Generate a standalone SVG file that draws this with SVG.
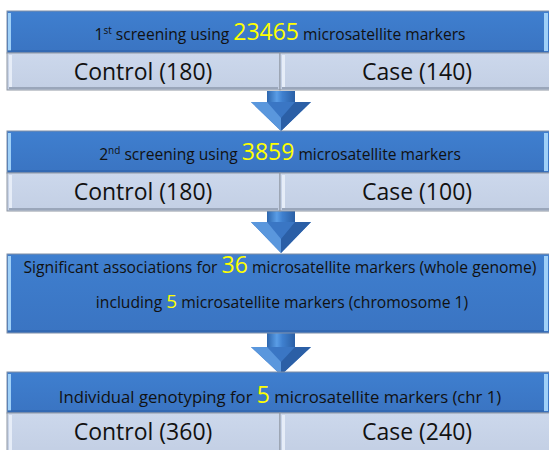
<svg xmlns="http://www.w3.org/2000/svg" width="549" height="450" viewBox="0 0 549 450">
<defs>
<linearGradient id="shaft" x1="0" y1="0" x2="1" y2="0">
<stop offset="0" stop-color="#2c65ad"/>
<stop offset="0.35" stop-color="#5a9de6"/>
<stop offset="0.55" stop-color="#3f80cf"/>
<stop offset="1" stop-color="#2a5fa5"/>
</linearGradient>
<linearGradient id="blueV" x1="0" y1="0" x2="0" y2="1">
<stop offset="0" stop-color="#3f7fcf"/>
<stop offset="1" stop-color="#3a74c2"/>
</linearGradient>
<linearGradient id="grayV" x1="0" y1="0" x2="0" y2="1">
<stop offset="0" stop-color="#ccd8ec"/>
<stop offset="1" stop-color="#c3cfe4"/>
</linearGradient>
</defs>
<style>
.hdr{fill:url(#blueV);stroke:#7f8ea6;stroke-width:1}
.cell{fill:url(#grayV);stroke:#8f97a3;stroke-width:1}
.hl{fill:#9fd0f8}
.hd{fill:#2e62a8;opacity:0.6}
.cl{fill:#e6edf8}
.cd{fill:#9aa6ba}
.t{font-family:"Open Sans","Liberation Sans",sans-serif;fill:#111;text-anchor:middle}
.s{font-size:15.6px}
.m{font-size:15.7px}
.m4{font-size:16.7px}
.big{fill:#ffff00}
.lg{font-size:23px}
</style>

<g id="connectors">
<g id="arrow1">
<rect x="267" y="91" width="28" height="12" fill="url(#shaft)"/>
<polygon points="251,102 311,102 281,131" fill="#3a76c4"/>
<polygon points="251,102 267,102 281,118 281,131" fill="#5a97dd"/>
<polygon points="311,102 295,102 281,118 281,131" fill="#2b5fa6"/>
</g>
<g id="arrow2">
<rect x="267" y="211" width="28" height="12" fill="url(#shaft)"/>
<polygon points="251,222 311,222 281,253" fill="#3a76c4"/>
<polygon points="251,222 267,222 281,239 281,253" fill="#5a97dd"/>
<polygon points="311,222 295,222 281,239 281,253" fill="#2b5fa6"/>
</g>
<g id="arrow3">
<rect x="267" y="333" width="28" height="15" fill="url(#shaft)"/>
<polygon points="251,347 311,347 281,375" fill="#3a76c4"/>
<polygon points="251,347 267,347 281,362 281,375" fill="#5a97dd"/>
<polygon points="311,347 295,347 281,362 281,375" fill="#2b5fa6"/>
</g>
</g>

<g id="step1">
<rect class="hdr" x="7" y="11" width="546" height="42"/>
<rect class="hl" x="8" y="13" width="3" height="38"/>
<rect class="hl" x="544" y="13" width="4" height="38"/>
<rect class="hd" x="8" y="50" width="536" height="2"/>
<text class="t s" x="280" y="40">1<tspan font-size="10" dy="-6">st</tspan><tspan dy="6"> screening using </tspan><tspan class="big lg">23465</tspan> microsatellite markers</text>
</g>
<g id="step1-control">
<rect class="cell" x="7" y="53" width="273" height="37"/>
<rect class="cl" x="9" y="55" width="3" height="33"/>
<rect class="cd" x="9" y="87" width="269" height="2"/>
<text class="t lg" x="143" y="80">Control (180)</text>
</g>
<g id="step1-case">
<rect class="cell" x="280" y="53" width="273" height="37"/>
<rect class="cl" x="282" y="55" width="3" height="33"/>
<rect class="cd" x="282" y="87" width="269" height="2"/>
<text class="t lg" x="417" y="80">Case (140)</text>
</g>

<g id="step2">
<rect class="hdr" x="7" y="131" width="546" height="42"/>
<rect class="hl" x="8" y="133" width="3" height="38"/>
<rect class="hl" x="544" y="133" width="4" height="38"/>
<rect class="hd" x="8" y="170" width="536" height="2"/>
<text class="t s" x="280" y="160">2<tspan font-size="10" dy="-6">nd</tspan><tspan dy="6"> screening using </tspan><tspan class="big lg">3859</tspan> microsatellite markers</text>
</g>
<g id="step2-control">
<rect class="cell" x="7" y="173" width="273" height="38"/>
<rect class="cl" x="9" y="175" width="3" height="34"/>
<rect class="cd" x="9" y="208" width="269" height="2"/>
<text class="t lg" x="143" y="200">Control (180)</text>
</g>
<g id="step2-case">
<rect class="cell" x="280" y="173" width="273" height="38"/>
<rect class="cl" x="282" y="175" width="3" height="34"/>
<rect class="cd" x="282" y="208" width="269" height="2"/>
<text class="t lg" x="417" y="200">Case (100)</text>
</g>

<g id="step3">
<rect class="hdr" x="7" y="254" width="546" height="79"/>
<rect class="hl" x="8" y="256" width="3" height="75"/>
<rect class="hl" x="544" y="256" width="4" height="75"/>
<rect class="hd" x="8" y="330" width="536" height="2"/>
<text class="t m" x="280" y="273">Significant associations for <tspan class="big lg">36</tspan> microsatellite markers (whole genome)</text>
<text class="t m" x="282" y="308">including <tspan class="big" font-size="19">5</tspan> microsatellite markers (chromosome 1)</text>
</g>

<g id="step4">
<rect class="hdr" x="7" y="372" width="546" height="41"/>
<rect class="hl" x="8" y="374" width="3" height="37"/>
<rect class="hl" x="544" y="374" width="4" height="37"/>
<rect class="hd" x="8" y="410" width="536" height="2"/>
<text class="t m4" x="280" y="403">Individual genotyping for <tspan class="big lg">5</tspan> microsatellite markers (chr 1)</text>
</g>
<g id="step4-control">
<rect class="cell" x="7" y="413" width="273" height="40"/>
<rect class="cl" x="9" y="415" width="3" height="36"/>
<text class="t lg" x="143" y="440">Control (360)</text>
</g>
<g id="step4-case">
<rect class="cell" x="280" y="413" width="273" height="40"/>
<rect class="cl" x="282" y="415" width="3" height="36"/>
<text class="t lg" x="417" y="440">Case (240)</text>
</g>
</svg>
